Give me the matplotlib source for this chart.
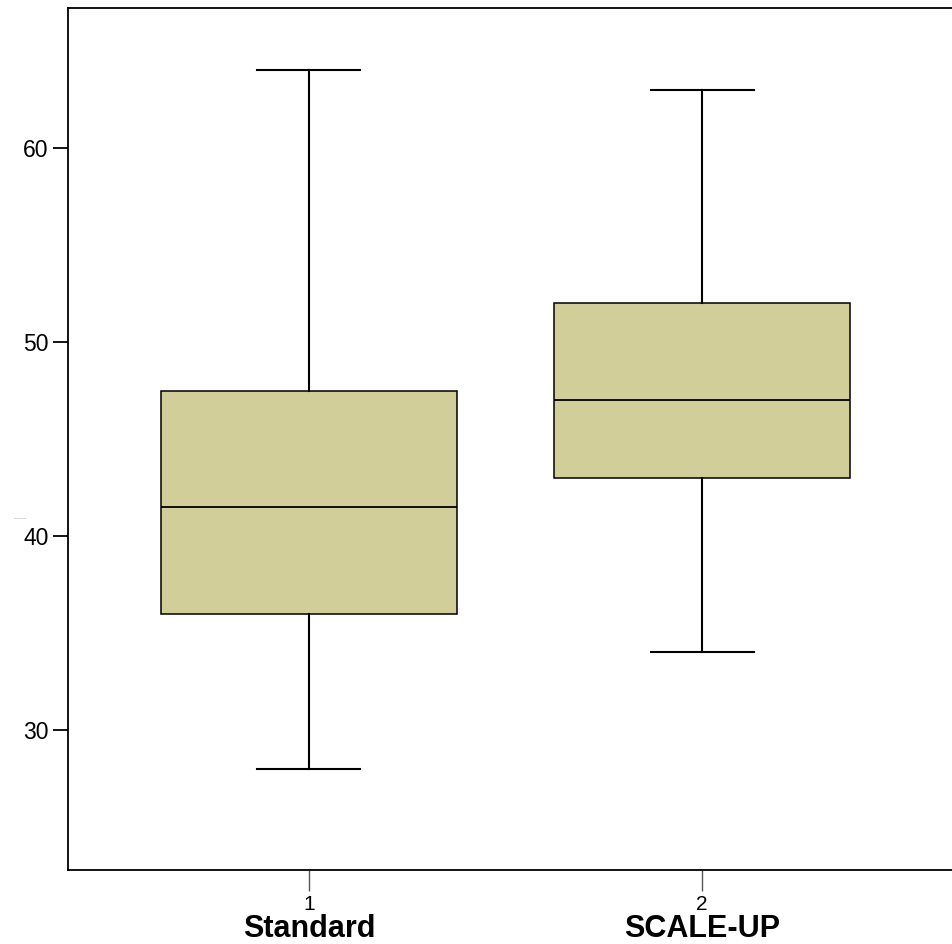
import matplotlib
matplotlib.use("Agg")
import matplotlib.pyplot as plt
from matplotlib import transforms

plt.rcParams['font.family'] = ['Liberation Sans', 'DejaVu Sans']

categories = ["Standard", "SCALE-UP"]
tick_labels = ["1", "2"]
whisker_low = [28, 34]
q1 = [36, 43]
median = [41.5, 47]
q3 = [47.5, 52]
whisker_high = [64, 63]

fig = plt.figure(figsize=(9.53, 9.44), dpi=100)
ax = fig.add_axes([68/953, 1-870/944, (952-68)/953, (870-8)/944])

stats = []
for i in range(len(categories)):
    stats.append(dict(whislo=whisker_low[i], q1=q1[i], med=median[i],
                      q3=q3[i], whishi=whisker_high[i], fliers=[], label=tick_labels[i]))

ax.bxp(stats, positions=[1, 2], widths=0.753, patch_artist=True, showfliers=False,
       boxprops=dict(facecolor='#D2CE99', edgecolor='black', linewidth=1.1),
       medianprops=dict(color='black', linewidth=1.3),
       whiskerprops=dict(color='black', linewidth=1.5),
       capprops=dict(color='black', linewidth=1.5),
       capwidths=0.262)

ax.set_xlim(0.387, 2.636)
ax.set_ylim(22.78, 67.22)
ax.set_yticks([30, 40, 50, 60])
ax.set_xticks([1, 2])
ax.set_xticklabels(tick_labels)
ax.spines['right'].set_visible(False)
for s in ['left', 'top', 'bottom']:
    ax.spines[s].set_linewidth(1.3)
ax.tick_params(axis='y', length=11, width=1.3, labelsize=16.5, pad=3)
ax.tick_params(axis='x', length=15, width=1.0, labelsize=15, pad=3, color='#555555')

trans = transforms.blended_transform_factory(ax.transData, fig.transFigure)
for i, c in enumerate(categories):
    ax.text(i + 1, 1 - 937/944, c, transform=trans, ha='center', va='baseline',
            fontsize=22, fontweight='bold')

fig.text(20/953, 1-518/944, "———", fontsize=3, color='#666666', ha='center', va='center')

fig.savefig("out.png", dpi=100)
